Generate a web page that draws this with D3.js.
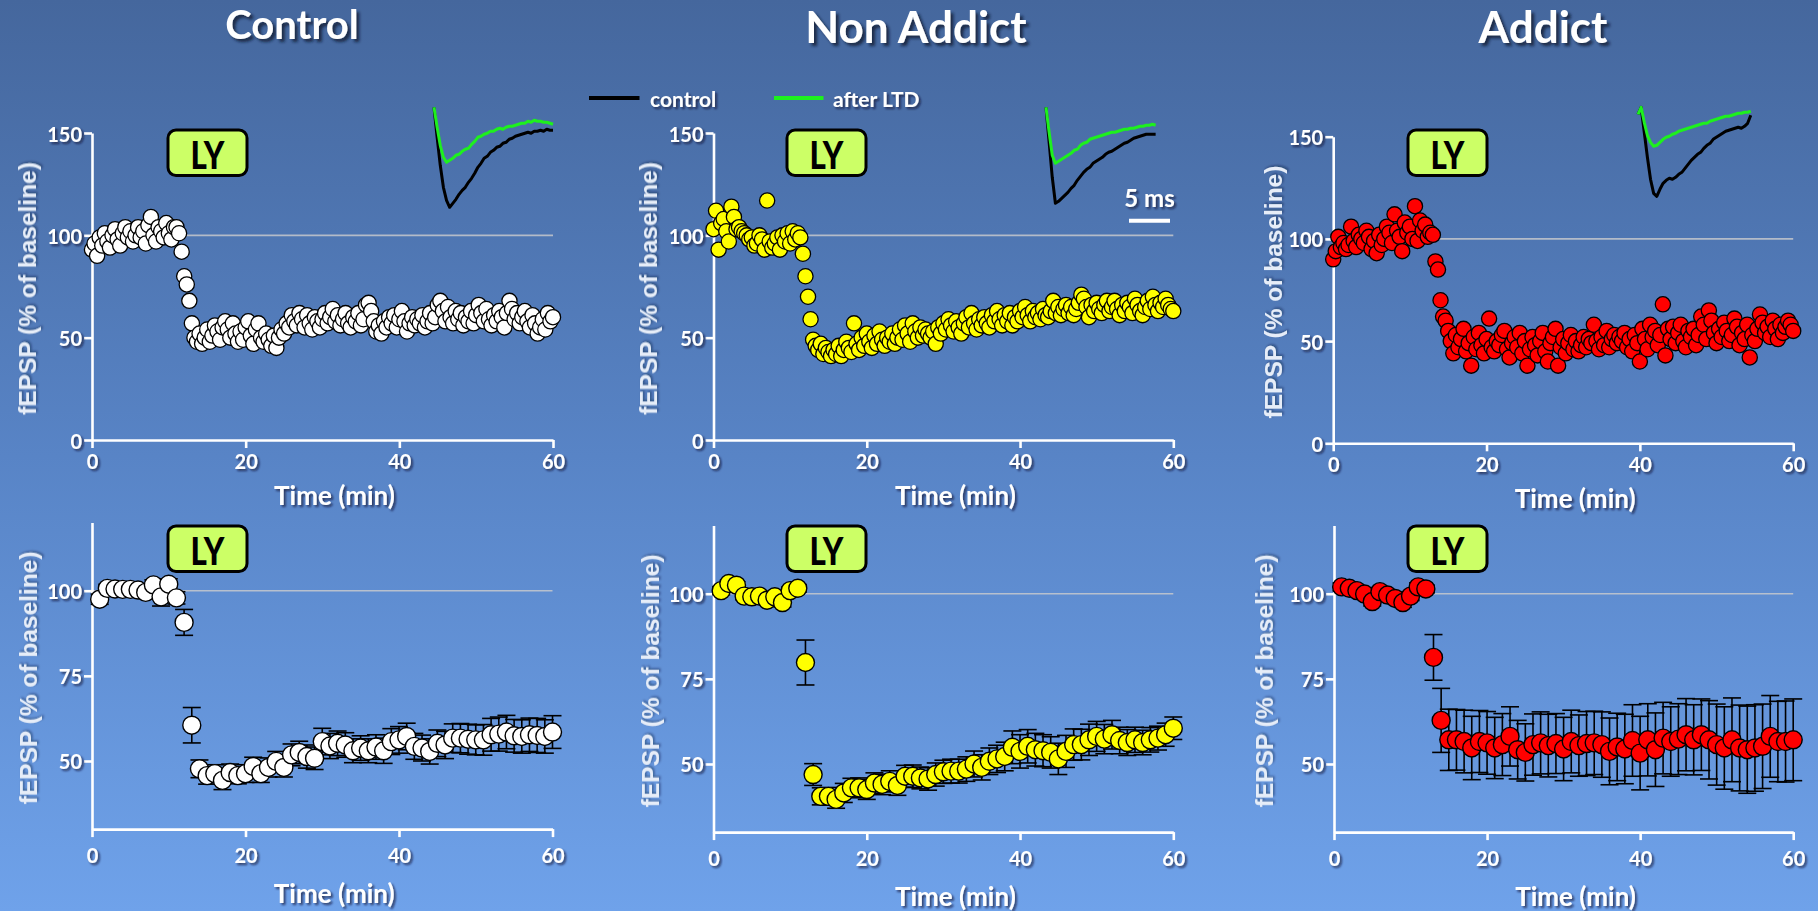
<!DOCTYPE html>
<html>
<head>
<meta charset="utf-8">
<script src="https://cdn.jsdelivr.net/npm/d3@7"></script>
<style>
  html, body { margin: 0; padding: 0; overflow: hidden; background: #5a86c8; }
  svg { display: block; }
</style>
</head>
<body>
<svg id="chart" width="1818" height="911"></svg>
<script>
// ---------------------------------------------------------------
// fEPSP time courses after LY application (% of baseline)
// ---------------------------------------------------------------
const groups = ["Control", "Non Addict", "Addict"];
const timeTicks = [0, 20, 40, 60];
const yTicksTop = [0, 50, 100, 150];
const yTicksBottom = [50, 75, 100];
const legendLabels = ["control", "after LTD"];
const scaleBarLabel = "5 ms";
const drugLabel = "LY";
const xTitle = "Time (min)";
const yTitle = "fEPSP (% of baseline)";

// Example experiments, one sample every 20 s from 0 to 60 min
const controlRun = [
  93, 96, 90, 99, 95, 101, 97, 94, 100, 103, 98, 95, 101, 104, 99,
  102, 97, 100, 104, 99, 102, 96, 105, 109, 100, 97, 104, 102, 99, 106,
  101, 98, 104, 104, 101, 92, 80, 76, 68, 57, 50, 48, 52, 47, 50,
  54, 48, 51, 56, 53, 49, 55, 58, 54, 50, 57, 52, 48, 53, 49,
  55, 58, 51, 47, 54, 57, 50, 48, 52, 49, 46, 51, 45, 50, 54,
  52, 57, 55, 61, 58, 56, 62, 59, 55, 61, 57, 54, 60, 58, 55,
  59, 62, 57, 60, 64, 58, 61, 56, 59, 62, 57, 55, 60, 58, 62,
  56, 59, 66, 67, 63, 58, 53, 56, 52, 58, 55, 60, 57, 61, 55,
  59, 63, 58, 53, 57, 60, 56, 59, 57, 61, 55, 58, 62, 57, 60,
  66, 68, 63, 58, 65, 60, 57, 63, 59, 62, 56, 60, 58, 63, 57,
  61, 66, 62, 58, 64, 59, 56, 61, 58, 63, 60, 55, 62, 68, 64,
  59, 62, 57, 60, 63, 58, 55, 61, 57, 52, 55, 59, 54, 62, 58,
  60
];
const nonAddictRun = [
  103, 112, 93, 106, 108, 102, 97, 114, 109, 103, 104, 102, 101, 100, 98,
  99, 95, 96, 100, 98, 93, 117, 97, 94, 96, 99, 93, 100, 97, 101,
  96, 102, 98, 101, 99, 91, 80, 70, 59, 49, 46, 44, 47, 42, 45,
  43, 41, 44, 42, 46, 41, 44, 48, 45, 43, 57, 47, 44, 50, 46,
  52, 48, 45, 51, 47, 53, 49, 46, 50, 48, 52, 47, 50, 54, 49,
  56, 52, 48, 57, 53, 50, 55, 51, 54, 52, 50, 53, 47, 55, 52,
  57, 54, 59, 56, 53, 58, 55, 52, 57, 60, 55, 62, 57, 54, 59,
  56, 60, 57, 55, 61, 58, 63, 59, 56, 61, 58, 62, 56, 60, 58,
  63, 60, 65, 61, 58, 63, 60, 62, 59, 64, 61, 60, 63, 68, 62,
  65, 61, 64, 66, 62, 65, 61, 64, 67, 71, 69, 65, 60, 66, 63,
  67, 64, 62, 66, 68, 63, 65, 68, 64, 61, 66, 63, 67, 65, 62,
  69, 66, 63, 61, 65, 68, 64, 70, 66, 63, 67, 65, 69, 66, 64,
  63
];
const addictRun = [
  90, 94, 101, 96, 98, 95, 97, 106, 99, 96, 102, 100, 98, 104, 101,
  95, 99, 93, 102, 97, 100, 106, 103, 98, 112, 104, 101, 94, 108, 103,
  106, 100, 116, 99, 109, 104, 107, 101, 103, 102, 89, 85, 70, 62, 60,
  55, 50, 44, 53, 47, 51, 56, 45, 49, 38, 52, 46, 54, 48, 44,
  51, 61, 47, 45, 50, 48, 53, 55, 46, 42, 49, 52, 47, 54, 44,
  50, 38, 46, 52, 48, 43, 50, 54, 45, 40, 49, 52, 56, 38, 47,
  51, 44, 49, 53, 46, 50, 45, 48, 52, 47, 51, 49, 58, 50, 46,
  52, 48, 55, 47, 51, 53, 49, 52, 50, 54, 47, 51, 45, 53, 49,
  40, 56, 51, 46, 58, 52, 55, 48, 53, 68, 43, 56, 51, 57, 49,
  54, 58, 50, 47, 55, 52, 56, 48, 53, 62, 58, 51, 65, 60, 54,
  49, 56, 52, 59, 55, 50, 53, 61, 57, 48, 54, 51, 58, 42, 53,
  50, 56, 63, 59, 54, 57, 52, 60, 56, 51, 58, 54, 57, 60, 58,
  55
];

// Group averages, one point per minute (1..60), mean and SEM
const minutes = d3.range(1, 61);
const controlMean = [
  97.5, 100.7, 100.5, 100.4, 100.4, 100.2, 99.5, 101.7, 98.2, 101.9, 97.9, 90.7,
  60.5, 47.7, 45.7, 46.3, 44.3, 46.6, 45.7, 46.3,
  48.4, 46.3, 48.1, 49.9, 48.1, 51.8, 52.5, 51.3, 50.8, 55.7,
  54.4, 55.2, 54.7, 53.0, 53.8, 53.0, 54.1, 53.0, 55.7, 56.2,
  57.2, 54.3, 53.8, 52.8, 55.2, 54.7, 56.7, 56.7, 56.4, 56.2,
  56.2, 57.7, 57.9, 58.5, 57.4, 57.2, 57.7, 57.5, 57.2, 58.5
];
const controlSem = [
  1.5, 1.2, 1.0, 1.0, 1.2, 1.0, 1.3, 1.5, 2.7, 1.6, 1.8, 3.8,
  5.2, 2.6, 2.5, 2.6, 2.7, 2.5, 2.4, 2.6,
  2.7, 2.6, 2.8, 2.9, 2.8, 3.2, 3.3, 3.4, 3.3, 3.9,
  3.7, 3.6, 3.6, 3.5, 3.6, 3.5, 3.6, 3.7, 3.8, 3.9,
  3.9, 3.8, 3.8, 3.7, 3.9, 4.0, 4.2, 4.3, 4.4, 4.4,
  4.5, 4.8, 5.0, 4.9, 4.8, 4.9, 4.9, 5.0, 4.9, 4.8
];
const nonAddictMean = [
  100.9, 103.0, 102.5, 99.3, 99.1, 99.3, 98.1, 99.1, 97.4, 100.9, 101.6, 79.8,
  46.9, 40.5, 40.5, 39.6, 41.5, 43.0, 43.0, 42.5,
  44.4, 44.0, 44.9, 43.7, 46.4, 46.4, 45.9, 45.6, 46.9, 47.7,
  47.9, 47.9, 48.5, 50.0, 49.0, 50.8, 51.5, 52.2, 54.9, 53.7,
  55.2, 54.2, 53.9, 53.4, 51.5, 53.7, 55.7, 55.7, 57.1, 58.1,
  57.3, 58.6, 56.9, 56.3, 57.1, 56.3, 57.1, 57.6, 58.6, 60.5
];
const nonAddictSem = [
  1.2, 1.0, 1.0, 1.0, 1.0, 1.2, 1.0, 1.2, 1.3, 1.0, 1.1, 6.6,
  3.2, 2.5, 2.6, 2.6, 2.8, 2.8, 2.9, 2.9,
  3.0, 3.0, 3.1, 2.9, 3.2, 3.3, 3.2, 3.3, 3.4, 3.4,
  3.5, 3.5, 3.6, 3.8, 3.7, 3.9, 4.0, 4.2, 4.8, 4.9,
  4.9, 4.8, 4.7, 4.6, 4.6, 4.7, 4.6, 4.5, 4.6, 4.4,
  4.3, 4.2, 3.9, 3.8, 3.7, 3.6, 3.6, 3.5, 3.4, 3.3
];
const addictMean = [
  102.0, 101.6, 100.9, 99.9, 97.7, 100.6, 99.6, 98.6, 97.4, 99.3, 102.0, 101.4,
  81.3, 62.8, 57.1, 57.1, 56.6, 54.7, 56.6, 56.2,
  54.7, 55.7, 58.1, 54.2, 53.4, 55.7, 56.2, 55.4, 56.0, 54.4,
  56.6, 55.4, 56.0, 56.2, 55.7, 53.7, 55.0, 54.4, 56.9, 53.2,
  57.1, 54.2, 57.6, 56.6, 57.3, 58.6, 57.1, 58.6, 57.1, 55.7,
  54.7, 57.1, 54.7, 54.2, 54.7, 55.2, 58.1, 56.6, 56.6, 57.1
];
const addictSem = [
  1.2, 1.0, 1.0, 1.1, 1.3, 1.2, 1.1, 1.2, 1.4, 1.3, 1.2, 1.1,
  6.7, 9.4, 9.0, 8.9, 9.2, 9.3, 9.1, 9.2,
  9.0, 9.1, 8.7, 8.6, 8.4, 9.0, 9.1, 9.2, 8.8, 9.3,
  9.2, 9.0, 9.4, 9.3, 9.6, 9.8, 9.9, 10.2, 10.5, 10.8,
  10.6, 10.8, 10.5, 10.2, 10.4, 10.6, 10.3, 10.5, 11.5, 11.9,
  12.1, 12.3, 12.6, 12.8, 12.7, 12.4, 12.0, 11.8, 11.9, 12.0
];

// Sample fEPSP traces (mV), before (control) and after LTD
const traceStepMs = 0.382;
const controlTraceBefore = [
  0, -0.30, -0.58, -0.80, -0.93, -1.00, -0.96, -0.92, -0.87, -0.83, -0.80, -0.75, -0.71,
  -0.66, -0.60, -0.56, -0.51, -0.49, -0.45, -0.43, -0.40, -0.39, -0.36, -0.35, -0.32,
  -0.31, -0.29, -0.28, -0.27, -0.26, -0.25, -0.26, -0.24, -0.24, -0.23, -0.24, -0.22, -0.23, -0.23
];
const controlTraceAfter = [
  0, -0.20, -0.38, -0.50, -0.55, -0.53, -0.51, -0.48, -0.47, -0.44, -0.42, -0.41, -0.37,
  -0.34, -0.30, -0.29, -0.27, -0.26, -0.24, -0.24, -0.22, -0.21, -0.22, -0.20, -0.19,
  -0.19, -0.18, -0.17, -0.16, -0.16, -0.14, -0.15, -0.13, -0.14, -0.14, -0.15, -0.15, -0.16, -0.17
];
const nonAddictTraceBefore = [
  0, -0.35, -0.70, -0.96, -0.94, -0.91, -0.88, -0.85, -0.81, -0.78, -0.73, -0.69,
  -0.65, -0.62, -0.60, -0.56, -0.54, -0.52, -0.50, -0.47, -0.45, -0.44, -0.42, -0.40,
  -0.38, -0.36, -0.35, -0.33, -0.31, -0.30, -0.29, -0.28, -0.27, -0.27, -0.27, -0.27
];
const nonAddictTraceAfter = [
  0, -0.25, -0.48, -0.56, -0.54, -0.52, -0.50, -0.48, -0.46, -0.43, -0.42, -0.38,
  -0.36, -0.35, -0.32, -0.31, -0.30, -0.29, -0.28, -0.27, -0.26, -0.25, -0.25, -0.24,
  -0.23, -0.22, -0.22, -0.21, -0.21, -0.20, -0.19, -0.19, -0.18, -0.18, -0.17, -0.18
];
const addictTraceBefore = [
  -0.07, 0, -0.25, -0.50, -0.72, -0.86, -0.89, -0.82, -0.76, -0.73, -0.71, -0.72, -0.70,
  -0.67, -0.65, -0.61, -0.57, -0.53, -0.50, -0.47, -0.45, -0.41, -0.38, -0.36, -0.32,
  -0.30, -0.28, -0.26, -0.24, -0.23, -0.22, -0.21, -0.20, -0.21, -0.19, -0.16, -0.08
];
const addictTraceAfter = [
  -0.07, 0, -0.15, -0.28, -0.35, -0.39, -0.38, -0.35, -0.32, -0.30, -0.29, -0.27, -0.26,
  -0.24, -0.23, -0.22, -0.21, -0.20, -0.19, -0.18, -0.17, -0.16, -0.16, -0.14, -0.13,
  -0.12, -0.11, -0.10, -0.09, -0.09, -0.08, -0.07, -0.06, -0.06, -0.05, -0.05, -0.04
];

// ---------------------------------------------------------------
// Layout
// ---------------------------------------------------------------
const W = 1818, H = 911;
const svg = d3.select("#chart");
const defs = svg.append("defs");

const bg = defs.append("linearGradient").attr("id", "bg")
  .attr("x1", 0).attr("y1", 0).attr("x2", 0).attr("y2", 1);
bg.append("stop").attr("offset", "0%").attr("stop-color", "#45679d");
bg.append("stop").attr("offset", "50%").attr("stop-color", "#5884c6");
bg.append("stop").attr("offset", "100%").attr("stop-color", "#6fa2ea");

function shadowFilter(id, dx, dy, sd, op) {
  const f = defs.append("filter").attr("id", id)
    .attr("x", "-20%").attr("y", "-30%").attr("width", "140%").attr("height", "160%");
  f.append("feDropShadow").attr("dx", dx).attr("dy", dy).attr("stdDeviation", sd)
    .attr("flood-color", "#0b1830").attr("flood-opacity", op);
}
shadowFilter("shadowTitle", 3, 3, 1.6, 0.8);
shadowFilter("shadowText", 2, 2, 1.1, 0.7);
shadowFilter("shadowSoft", 1.5, 1.5, 1.2, 0.45);

svg.append("rect").attr("width", W).attr("height", H).attr("fill", "url(#bg)");

const TEXT_FONT = "Lato, 'Open Sans', sans-serif";
const LABEL_FONT = "'Liberation Sans', Arial, sans-serif";

const columns = [
  { title: groups[0], titleX: 292, titleY: 39, titleSize: 40, run: controlRun, mean: controlMean, sem: controlSem,
    fill: "#ffffff", before: controlTraceBefore, after: controlTraceAfter,
    top: { x: [92, 553], y: [440, 133], yLabelX: 27, boxX: 168 },
    bottom: { x: [92, 552.5], y: [829.1, 522.6], yLabelX: 28, boxX: 168 },
    trace: { x: 434, y: 107.3 } },
  { title: groups[1], titleX: 916, titleY: 43, titleSize: 44, run: nonAddictRun, mean: nonAddictMean, sem: nonAddictSem,
    fill: "#ffff00", before: nonAddictTraceBefore, after: nonAddictTraceAfter,
    top: { x: [713.5, 1173.3], y: [440, 133], yLabelX: 648, boxX: 787 },
    bottom: { x: [713.5, 1173.3], y: [832.1, 525.6], yLabelX: 650, boxX: 787 },
    trace: { x: 1046, y: 107.3 } },
  { title: groups[2], titleX: 1543, titleY: 43, titleSize: 44, run: addictRun, mean: addictMean, sem: addictSem,
    fill: "#ff0000", before: addictTraceBefore, after: addictTraceAfter,
    top: { x: [1333.2, 1793.2], y: [443.3, 136.7], yLabelX: 1273, boxX: 1408 },
    bottom: { x: [1334, 1793.2], y: [832.1, 525.6], yLabelX: 1264, boxX: 1408 },
    trace: { x: 1638, y: 107.3 } }
];

// ---------------------------------------------------------------
// Helpers
// ---------------------------------------------------------------
function styleAxis(g) {
  g.select(".domain").attr("stroke", "#ffffff").attr("stroke-width", 2.6);
  g.selectAll(".tick line").attr("stroke", "#ffffff").attr("stroke-width", 2.6);
  g.selectAll(".tick text")
    .attr("fill", "#ffffff")
    .style("font-family", TEXT_FONT)
    .style("font-weight", "700")
    .style("font-size", "20px")
    .attr("filter", "url(#shadowText)");
}

function drawFrame(g, x, y, yTicks, xLabelOffset, xTitleOffset, yLabelX) {
  // reference line at 100 %
  g.append("line")
    .attr("x1", x(0)).attr("x2", x(60))
    .attr("y1", y(100)).attr("y2", y(100))
    .attr("stroke", "rgba(205,205,205,0.8)").attr("stroke-width", 1.6);

  const xa = g.append("g")
    .attr("transform", `translate(0,${y.range()[0]})`)
    .call(d3.axisBottom(x).tickValues(timeTicks).tickSize(8).tickSizeOuter(0).tickFormat(d3.format("d")));
  styleAxis(xa);
  xa.selectAll(".tick text").attr("y", xLabelOffset).attr("dy", null).attr("dominant-baseline", "central");

  const ya = g.append("g")
    .attr("transform", `translate(${x.range()[0]},0)`)
    .call(d3.axisLeft(y).tickValues(yTicks).tickSize(8).tickSizeOuter(0).tickFormat(d3.format("d")));
  styleAxis(ya);
  ya.selectAll(".tick text").attr("x", -10).attr("dy", null).attr("dominant-baseline", "central");

  g.append("text")
    .attr("x", (x.range()[0] + x.range()[1]) / 2 + 12)
    .attr("y", y.range()[0] + xTitleOffset)
    .attr("text-anchor", "middle").attr("dominant-baseline", "central")
    .attr("fill", "#ffffff").attr("filter", "url(#shadowText)")
    .style("font-family", TEXT_FONT).style("font-weight", "700").style("font-size", "26px")
    .text(xTitle);

  const yMid = (y.range()[0] + y.range()[1]) / 2 + 2;
  g.append("text")
    .attr("transform", `translate(${yLabelX},${yMid}) rotate(-90)`)
    .attr("text-anchor", "middle").attr("dominant-baseline", "central")
    .attr("fill", "#e6edf8").attr("filter", "url(#shadowSoft)")
    .style("font-family", LABEL_FONT).style("font-weight", "700").style("font-size", "24.5px")
    .text(yTitle);
}

function drawDrugBox(g, x0, y0) {
  g.append("rect")
    .attr("x", x0).attr("y", y0).attr("width", 79).attr("height", 45.5)
    .attr("rx", 8).attr("ry", 8)
    .attr("fill", "#ccff66").attr("stroke", "#000000").attr("stroke-width", 3);
  g.append("text")
    .attr("x", x0 + 39.5).attr("y", y0 + 24)
    .attr("text-anchor", "middle").attr("dominant-baseline", "central")
    .attr("fill", "#000000")
    .attr("textLength", 34).attr("lengthAdjust", "spacingAndGlyphs")
    .style("font-family", TEXT_FONT).style("font-weight", "900").style("font-size", "37px")
    .text(drugLabel);
}

// ---------------------------------------------------------------
// Draw
// ---------------------------------------------------------------
columns.forEach((col, ci) => {
  // column title
  svg.append("text")
    .attr("x", col.titleX).attr("y", col.titleY)
    .attr("text-anchor", "middle")
    .attr("fill", "#ffffff").attr("filter", "url(#shadowTitle)")
    .style("font-family", TEXT_FONT).style("font-weight", "700").style("font-size", col.titleSize + "px")
    .text(col.title);

  // ---- top: single experiment ----
  const gt = svg.append("g");
  const xt = d3.scaleLinear().domain([0, 60]).range(col.top.x);
  const yt = d3.scaleLinear().domain([0, 150]).range(col.top.y);
  drawFrame(gt, xt, yt, yTicksTop, 21, 55, col.top.yLabelX);
  drawDrugBox(gt, col.top.boxX, 130);

  const n = col.run.length;
  const runPts = col.run.map((v, i) => ({ t: i * 60 / (n - 1), v }));
  gt.append("g").selectAll("circle").data(runPts).join("circle")
    .attr("cx", d => xt(d.t)).attr("cy", d => yt(d.v)).attr("r", 7.6)
    .attr("fill", col.fill).attr("stroke", "#000000").attr("stroke-width", 1.3);

  // ---- inset traces ----
  const tx = d3.scaleLinear().domain([0, 5]).range([col.trace.x, col.trace.x + 41]);
  const ty = d3.scaleLinear().domain([0, -1]).range([col.trace.y, col.trace.y + 100]);
  const traceLine = d3.line().x((d, i) => tx(i * traceStepMs)).y(d => ty(d));
  gt.append("path").datum(col.before).attr("d", traceLine)
    .attr("fill", "none").attr("stroke", "#000000").attr("stroke-width", 3).attr("stroke-linejoin", "round");
  gt.append("path").datum(col.after).attr("d", traceLine)
    .attr("fill", "none").attr("stroke", "#1ef01e").attr("stroke-width", 3).attr("stroke-linejoin", "round");

  if (ci === 1) {
    // 5 ms scale bar
    svg.append("line")
      .attr("x1", tx(0) + 83).attr("x2", tx(5) + 83)
      .attr("y1", 220.7).attr("y2", 220.7)
      .attr("stroke", "#ffffff").attr("stroke-width", 4);
    svg.append("text")
      .attr("x", (tx(0) + tx(5)) / 2 + 83).attr("y", 197)
      .attr("text-anchor", "middle").attr("dominant-baseline", "central")
      .attr("fill", "#ffffff").attr("filter", "url(#shadowText)")
      .style("font-family", TEXT_FONT).style("font-weight", "700").style("font-size", "24px")
      .text(scaleBarLabel);
  }

  // ---- bottom: group average ----
  const gb = svg.append("g");
  const xb = d3.scaleLinear().domain([0, 60]).range(col.bottom.x);
  const yb = d3.scaleLinear().domain([30, 120]).range(col.bottom.y);
  drawFrame(gb, xb, yb, yTicksBottom, 26, 64, col.bottom.yLabelX);
  drawDrugBox(gb, col.bottom.boxX, 526);

  const avg = minutes.map((t, i) => ({ t, m: col.mean[i], s: col.sem[i] }));
  const eb = gb.append("g").attr("stroke", "#000000").attr("stroke-width", 1.6);
  eb.selectAll("line.v").data(avg).join("line").attr("class", "v")
    .attr("x1", d => xb(d.t)).attr("x2", d => xb(d.t))
    .attr("y1", d => yb(d.m - d.s)).attr("y2", d => yb(d.m + d.s));
  eb.selectAll("line.hi").data(avg).join("line").attr("class", "hi")
    .attr("x1", d => xb(d.t) - 9).attr("x2", d => xb(d.t) + 9)
    .attr("y1", d => yb(d.m + d.s)).attr("y2", d => yb(d.m + d.s));
  eb.selectAll("line.lo").data(avg).join("line").attr("class", "lo")
    .attr("x1", d => xb(d.t) - 9).attr("x2", d => xb(d.t) + 9)
    .attr("y1", d => yb(d.m - d.s)).attr("y2", d => yb(d.m - d.s));
  gb.append("g").selectAll("circle").data(avg).join("circle")
    .attr("cx", d => xb(d.t)).attr("cy", d => yb(d.m)).attr("r", 9)
    .attr("fill", col.fill).attr("stroke", "#000000").attr("stroke-width", 1.4);
});

// ---- trace legend ----
const legend = svg.append("g");
const legendItems = [
  { label: legendLabels[0], color: "#000000", x0: 589, x1: 639.5, tx: 650 },
  { label: legendLabels[1], color: "#1ef01e", x0: 774, x1: 823.5, tx: 833 }
];
legendItems.forEach(it => {
  legend.append("line")
    .attr("x1", it.x0).attr("x2", it.x1).attr("y1", 98).attr("y2", 98)
    .attr("stroke", it.color).attr("stroke-width", 4);
  legend.append("text")
    .attr("x", it.tx).attr("y", 98)
    .attr("dominant-baseline", "central")
    .attr("fill", "#ffffff").attr("filter", "url(#shadowText)")
    .style("font-family", TEXT_FONT).style("font-weight", "700").style("font-size", "21px")
    .text(it.label);
});
</script>
</body>
</html>
